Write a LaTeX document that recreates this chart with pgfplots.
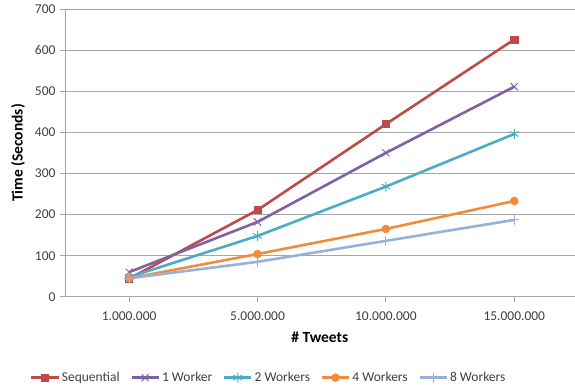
\documentclass[border=0pt]{standalone}
\usepackage{pgfplots}
\pgfplotsset{compat=1.18}
\usepackage{fontspec}
\setmainfont{Carlito}
\definecolor{cseq}{HTML}{BE4B48}
\definecolor{cone}{HTML}{7E62A1}
\definecolor{ctwo}{HTML}{4AACC5}
\definecolor{cfour}{HTML}{F08C3E}
\definecolor{ceight}{HTML}{98B0DA}
\definecolor{cgrid}{HTML}{A6A6A6}
\definecolor{ctext}{HTML}{404040}
\begin{document}
\begin{tikzpicture}
\begin{axis}[
  scale only axis,
  width=510pt, height=288pt,
  xmin=-0.5, xmax=3.47,
  ymin=0, ymax=700,
  ytick={0,100,...,700},
  xtick={0,1,2,3},
  xticklabels={1.000.000,5.000.000,10.000.000,15.000.000},
  axis x line=bottom, axis y line=left,
  axis line style={draw=cgrid, line width=0.8pt, -},
  tick align=outside,
  major tick length=5pt,
  tick style={draw=cgrid, line width=0.8pt},
  ymajorgrids,
  grid style={draw=cgrid, line width=0.8pt},
  /pgf/number format/assume math mode=true,
  ticklabel style={font=\fontsize{13.5}{15}\selectfont, text=ctext},
  yticklabel style={xshift=-1pt},
  xticklabel style={yshift=-6pt},
  xlabel={\bfseries \# Tweets},
  ylabel={\bfseries Time (Seconds)},
  label style={font=\fontsize{15.5}{17}\selectfont},
  xlabel style={at={(axis description cs:0.5,-0.142)}, anchor=center},
  ylabel style={at={(axis description cs:-0.092,0.5)}, anchor=center, rotate=0},
  legend columns=5,
  legend style={draw=none, fill=none, font=\fontsize{13.5}{15}\selectfont,
    text=ctext,
    at={(axis description cs:-0.069,-0.281)}, anchor=west,
    /tikz/every even column/.append style={column sep=8.5pt},
    inner sep=0pt},
  legend image code/.code={\draw[mark repeat=2,mark phase=2] plot coordinates {(0cm,0cm)(0.48cm,0cm)(0.96cm,0cm)};},
  every axis plot/.append style={line width=2.6pt},
  clip=false,
]
\addplot[cseq, mark=square*, mark size=3.6pt, mark options={solid, line width=0.5pt}]
  coordinates {(0,44) (1,211) (2,420) (3,626)};
\addlegendentry{Sequential}
\addplot[cone, mark=x, mark size=5pt, mark options={line width=1pt}]
  coordinates {(0,60) (1,182) (2,350) (3,511)};
\addlegendentry{1 Worker}
\addplot[ctwo, mark=asterisk, mark size=5pt, mark options={line width=1pt}]
  coordinates {(0,48) (1,148) (2,268) (3,396)};
\addlegendentry{2 Workers}
\addplot[cfour, mark=*, mark size=4pt, mark options={line width=0.5pt}]
  coordinates {(0,45) (1,104) (2,165) (3,233)};
\addlegendentry{4 Workers}
\addplot[ceight, mark=+, mark size=5pt, mark options={line width=1pt}]
  coordinates {(0,45) (1,85) (2,136) (3,187)};
\addlegendentry{8 Workers}
\end{axis}
\path (current axis.south west) ++(-65pt,-95pt) coordinate (bbA);
\path (current axis.north east) ++(0pt,9pt) coordinate (bbB);
\path (bbA) rectangle (bbB);
\end{tikzpicture}
\end{document}
